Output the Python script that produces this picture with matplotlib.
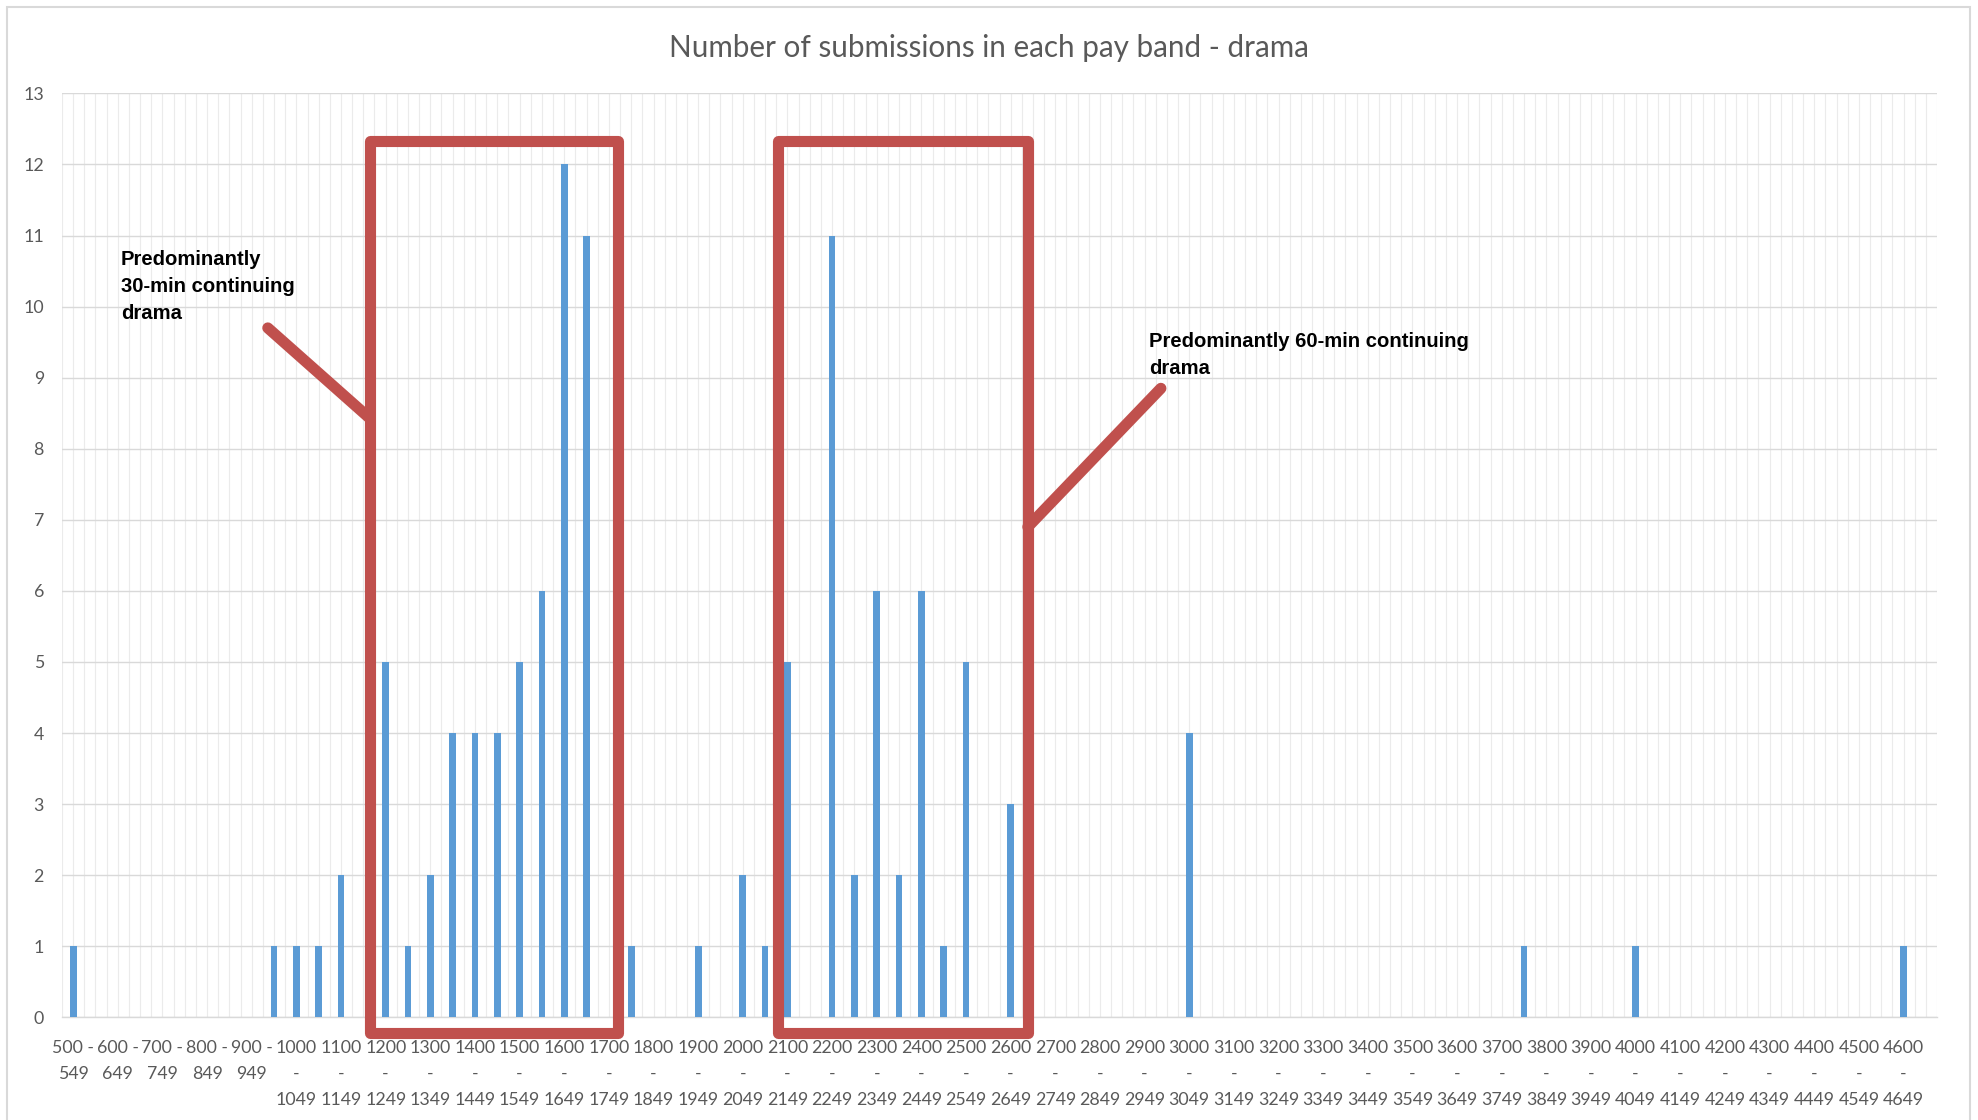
import numpy as np
import matplotlib
matplotlib.use("Agg")
import matplotlib.pyplot as plt
from matplotlib.patches import Rectangle

# ---------------- data ----------------
band_starts = list(range(500, 4651, 50))          # 84 pay bands of width 50
counts_by_band = {
    500: 1, 950: 1, 1000: 1, 1050: 1, 1100: 2,
    1200: 5, 1250: 1, 1300: 2, 1350: 4, 1400: 4, 1450: 4, 1500: 5,
    1550: 6, 1600: 12, 1650: 11, 1750: 1, 1900: 1, 2000: 2, 2050: 1,
    2100: 5, 2200: 11, 2250: 2, 2300: 6, 2350: 2, 2400: 6, 2450: 1,
    2500: 5, 2600: 3, 3000: 4, 3750: 1, 4000: 1, 4600: 1,
}
counts = [counts_by_band.get(b, 0) for b in band_starts]

def band_label(b):
    if b < 1000:
        return f"{b} -\n{b + 49}"
    return f"{b}\n-\n{b + 49}"

tick_idx = list(range(0, len(band_starts), 2))
tick_labels = [band_label(band_starts[i]) for i in tick_idx if band_starts[i] <= 4600]
tick_idx = tick_idx[:len(tick_labels)]

title = "Number of submissions in each pay band - drama"
note1_lines = ["Predominantly", "30-min continuing", "drama"]
note2_lines = ["Predominantly 60-min continuing", "drama"]

# ---------------- styling ----------------
W, H = 1978, 1120
BLUE = "#5B9BD5"
RED = "#C0504D"
GRAY_TXT = "#595959"
GRID_H = "#D9D9D9"
GRID_V = "#EBEBEB"
TICK_FS = 12.8

fig = plt.figure(figsize=(W / 100, H / 100), dpi=100)
fig.patch.set_facecolor("white")

left, right = 62 / W, 1937 / W
bottom, top = 1 - 1017.3 / H, 1 - 93.4 / H
ax = fig.add_axes([left, bottom, right - left, top - bottom])

n = len(band_starts)
x = np.arange(n)
ax.bar(x, counts, width=0.3, color=BLUE, zorder=3)

ax.set_xlim(-0.5, n - 0.5)
ax.set_ylim(0, 13)
ax.set_yticks(range(0, 14))

ax.set_xticks(tick_idx)
ax.set_xticklabels(tick_labels, fontsize=TICK_FS, color=GRAY_TXT, family="Lato",
                   linespacing=1.78)
ax.set_xticks(np.arange(-0.5, n, 0.5), minor=True)
ax.xaxis.remove_overlapping_locs = False
ax.tick_params(axis="x", which="both", length=0, pad=16)
ax.tick_params(axis="y", length=0, pad=13, labelsize=TICK_FS, labelcolor=GRAY_TXT)
for lab in ax.get_yticklabels():
    lab.set_family("Lato")

ax.grid(False)
ax.xaxis.grid(True, which="minor", color=GRID_V, lw=0.8, zorder=0)
ax.yaxis.grid(True, which="major", color=GRID_H, lw=1.0, zorder=1)
ax.set_axisbelow(True)
for s in ["left", "right", "top"]:
    ax.spines[s].set_visible(False)
ax.spines["bottom"].set_color(GRID_H)
ax.spines["bottom"].set_linewidth(1.0)

# title
fig.text(989 / W, 1 - 47.5 / H, title, ha="center", va="center",
         fontsize=21.3, color=GRAY_TXT, family="Lato")

# red highlight boxes (annotation shapes)
box_lw = 8.0
for (x0, x1) in [(13.28, 24.40), (31.57, 42.77)]:
    y0, y1 = -0.22, 12.33
    r = Rectangle((x0, y0), x1 - x0, y1 - y0, fill=False, edgecolor=RED,
                  lw=box_lw, joinstyle="round", clip_on=False, zorder=6)
    ax.add_patch(r)

ax.plot([8.72, 13.28], [9.70, 8.43], color=RED, lw=box_lw,
        solid_capstyle="round", clip_on=False, zorder=6)
ax.plot([48.73, 42.77], [8.85, 6.90], color=RED, lw=box_lw,
        solid_capstyle="round", clip_on=False, zorder=6)

# annotation texts
for i, line in enumerate(note1_lines):
    fig.text(121 / W, 1 - (265 + 27 * i) / H, line, ha="left", va="baseline",
             fontsize=14.6, fontweight="bold", family="Liberation Sans",
             color="black")
for i, line in enumerate(note2_lines):
    fig.text(1149 / W, 1 - (347 + 27 * i) / H, line, ha="left", va="baseline",
             fontsize=14.6, fontweight="bold", family="Liberation Sans",
             color="black")

# chart area border
fig.add_artist(Rectangle((7 / W, -0.01), (1970 - 7) / W, 1 - 7 / H + 0.01,
                         transform=fig.transFigure, fill=False,
                         edgecolor=GRID_H, lw=1.5))

fig.savefig("out.png", dpi=100, facecolor="white")
